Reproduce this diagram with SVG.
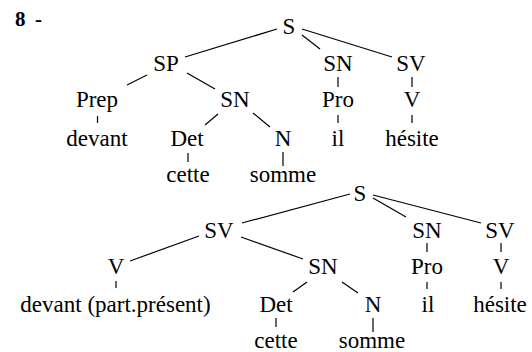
<svg xmlns="http://www.w3.org/2000/svg" width="532" height="352" viewBox="0 0 532 352">
<style>
text{font-family:"Liberation Serif","Times New Roman",serif;font-size:23px;fill:#000;text-anchor:middle}
.lbl{font-weight:bold;font-size:21px;text-anchor:start}
#edges line{stroke:#000;stroke-width:1.2;stroke-linecap:butt}
</style>
<rect width="532" height="352" fill="#fff"/>
<text class="lbl" x="15" y="26">8<tspan x="35">-</tspan></text>
<g id="edges">
<!-- top tree -->
<line x1="277" y1="29" x2="185" y2="57"/>
<line x1="302" y1="35" x2="320" y2="49"/>
<line x1="302" y1="29" x2="392" y2="57"/>
<line x1="147" y1="75" x2="127" y2="85"/>
<line x1="187" y1="73" x2="215" y2="89"/>
<line x1="97.5" y1="116" x2="97.5" y2="123"/>
<line x1="218" y1="114" x2="205" y2="125"/>
<line x1="253" y1="113" x2="270" y2="127"/>
<line x1="188" y1="153" x2="188" y2="162"/>
<line x1="283" y1="152" x2="283" y2="166"/>
<line x1="338" y1="77" x2="338" y2="87"/>
<line x1="338" y1="115" x2="338" y2="123"/>
<line x1="412" y1="77" x2="412" y2="87"/>
<line x1="412" y1="115" x2="412" y2="123"/>
<!-- bottom tree -->
<line x1="350" y1="194" x2="242" y2="223"/>
<line x1="373" y1="198" x2="406" y2="217"/>
<line x1="373" y1="195" x2="481" y2="223"/>
<line x1="199" y1="236" x2="130" y2="261"/>
<line x1="241" y1="237" x2="303" y2="259"/>
<line x1="116" y1="281" x2="116" y2="288"/>
<line x1="307" y1="282" x2="293" y2="292"/>
<line x1="342" y1="282" x2="358" y2="293"/>
<line x1="427" y1="243" x2="427" y2="252"/>
<line x1="501" y1="243" x2="501" y2="252"/>
<line x1="427" y1="282" x2="427" y2="289"/>
<line x1="501" y1="282" x2="501" y2="289"/>
<line x1="276" y1="318" x2="276" y2="327"/>
<line x1="373" y1="318" x2="373" y2="332"/>
</g>
<!-- top tree nodes -->
<g id="t1-S"><text x="289" y="34">S</text></g>
<g id="t1-SP"><text x="166" y="71">SP</text></g>
<g id="t1-SN"><text x="338" y="71">SN</text></g>
<g id="t1-SV"><text x="411" y="71">SV</text></g>
<g id="t1-Prep"><text x="97" y="107">Prep</text></g>
<g id="t1-SN2"><text x="235" y="107">SN</text></g>
<g id="t1-Pro"><text x="338" y="107">Pro</text></g>
<g id="t1-V"><text x="412" y="107">V</text></g>
<g id="t1-devant"><text x="97" y="146">devant</text></g>
<g id="t1-Det"><text x="187" y="146">Det</text></g>
<g id="t1-N"><text x="283" y="146">N</text></g>
<g id="t1-il"><text x="338" y="146">il</text></g>
<g id="t1-hesite"><text x="412" y="146">hésite</text></g>
<g id="t1-cette"><text x="188" y="182">cette</text></g>
<g id="t1-somme"><text x="283" y="182">somme</text></g>
<!-- bottom tree nodes -->
<g id="t2-S"><text x="360" y="201">S</text></g>
<g id="t2-SV"><text x="219" y="238">SV</text></g>
<g id="t2-SN"><text x="427" y="238">SN</text></g>
<g id="t2-SV2"><text x="500" y="238">SV</text></g>
<g id="t2-V"><text x="116" y="274">V</text></g>
<g id="t2-SN2"><text x="323" y="274">SN</text></g>
<g id="t2-Pro"><text x="427" y="274">Pro</text></g>
<g id="t2-V2"><text x="501" y="274">V</text></g>
<g id="t2-devant"><text x="115.5" y="312">devant (part.présent)</text></g>
<g id="t2-Det"><text x="276" y="312">Det</text></g>
<g id="t2-N"><text x="373" y="312">N</text></g>
<g id="t2-il"><text x="428" y="312">il</text></g>
<g id="t2-hesite"><text x="500" y="312">hésite</text></g>
<g id="t2-cette"><text x="276" y="348">cette</text></g>
<g id="t2-somme"><text x="372" y="348">somme</text></g>
</svg>
